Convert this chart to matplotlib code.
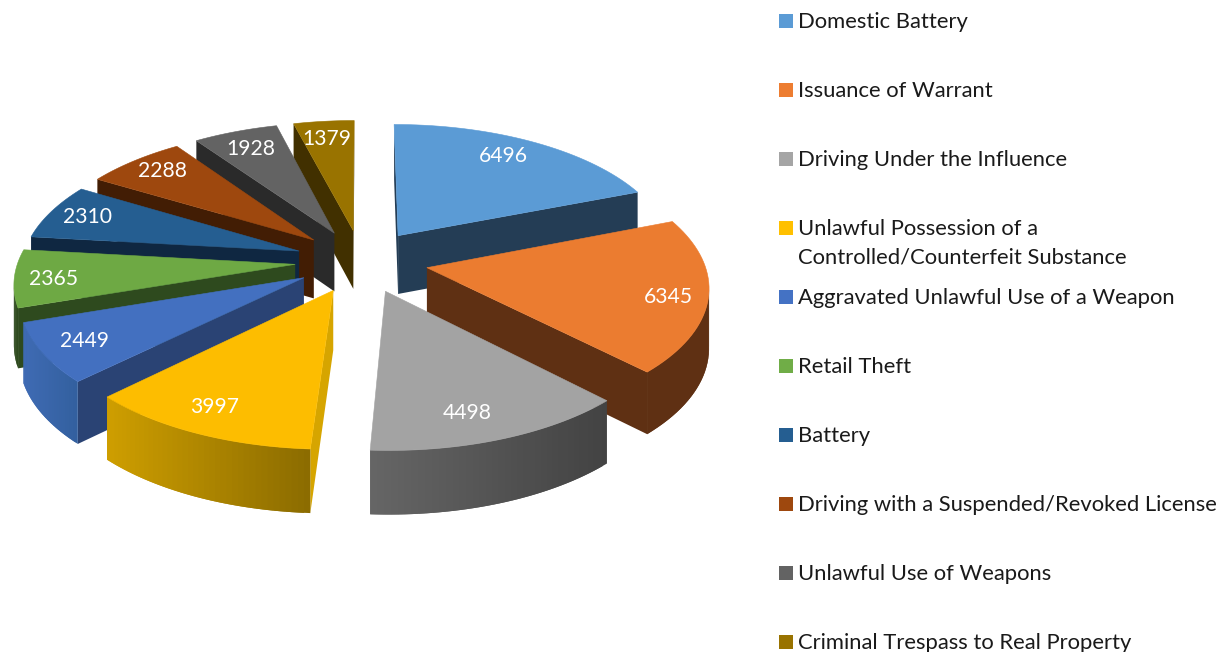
import numpy as np
import matplotlib
matplotlib.use("Agg")
import matplotlib.pyplot as plt
from matplotlib.colors import to_rgb
from matplotlib.patches import Rectangle

categories = [
    "Domestic Battery",
    "Issuance of Warrant",
    "Driving Under the Influence",
    "Unlawful Possession of a\nControlled/Counterfeit Substance",
    "Aggravated Unlawful Use of a Weapon",
    "Retail Theft",
    "Battery",
    "Driving with a Suspended/Revoked License",
    "Unlawful Use of Weapons",
    "Criminal Trespass to Real Property",
]
values = [6496, 6345, 4498, 3997, 2449, 2365, 2310, 2288, 1928, 1379]

top_colors = ["#5b9bd5", "#eb7c30", "#a3a3a3", "#fdbd00", "#4370c0",
              "#6ea944", "#255e91", "#9e480e", "#636363", "#997300"]
legend_colors = ["#5b9bd5", "#ed7d31", "#a5a5a5", "#ffc000", "#4472c4",
                 "#70ad47", "#255e91", "#9e480e", "#636363", "#997300"]
radial_colors = ["#243d55", "#5f3013", "#3f3f3f", "#d6a500", "#2a4374",
                 "#2e4a1e", "#0f2741", "#421d04", "#2a2a2a", "#413000"]
# outer wall gradient, left to right on screen
wall_left = ["#243d55", "#5f3013", "#666666", "#cf9f00", "#3f6bb4",
             "#2e4a1e", "#0f2741", "#421d04", "#2a2a2a", "#413000"]
wall_right = ["#243d55", "#5f3013", "#434343", "#8c6c00", "#33609f",
              "#2e4a1e", "#0f2741", "#421d04", "#2a2a2a", "#413000"]
# where the value sits inside its slice: radius, and degrees off the middle
label_r = [0.84, 0.86, 0.81, 0.83, 0.84, 0.86, 0.86, 0.87, 0.84, 0.85]
label_da = [-3.0, 0.8, 2.6, 1.8, 1.6, 0, 1.6, 2.4, 0.2, -0.3]

# projection settings in pixels
cx, cy = 361.5, 261
rx, ry = 277, 131
persp = 0.125
explode = 0.24
depth = 59


def project(u, v, z=0.0):
    s = 1 / (1 + persp * np.asarray(v))
    return cx + rx * np.asarray(u) * s, cy + (-ry * np.asarray(v)) * s + z * depth * np.sqrt(s)


def area(xs, ys):
    return np.sum(xs * np.roll(ys, -1) - np.roll(xs, -1) * ys)


def face(ax, us, vs, color, sign):
    # us, vs: edge on top of the slice, closed through the bottom copy
    xt, yt = project(us, vs)
    xb, yb = project(us, vs, 1.0)
    xs = np.concatenate([xt, xb[::-1]])
    ys = np.concatenate([yt, yb[::-1]])
    if area(xs, ys) * sign > 0:
        ax.fill(xs, ys, color=color, lw=0)


fig = plt.figure(figsize=(12.19, 6.52), dpi=100)
ax = fig.add_axes([0, 0, 1, 1])
ax.set_xlim(0, 1219)
ax.set_ylim(652, 0)
ax.axis("off")

edges = np.cumsum([0] + values) / sum(values) * 2 * np.pi
mids = (edges[:-1] + edges[1:]) / 2
order = np.argsort(-np.cos(mids))

for i in order:
    off_u = explode * np.sin(mids[i])
    off_v = explode * np.cos(mids[i])
    t = np.linspace(edges[i], edges[i + 1], 40)
    arc_u = off_u + np.sin(t)
    arc_v = off_v + np.cos(t)

    top_u = np.concatenate([[off_u], arc_u])
    top_v = np.concatenate([[off_v], arc_v])
    xt, yt = project(top_u, top_v)
    sign = np.sign(area(xt, yt))

    # walls, only the ones that face the viewer
    face(ax, np.array([arc_u[0], off_u]), np.array([arc_v[0], off_v]), radial_colors[i], sign)
    face(ax, np.array([off_u, arc_u[-1]]), np.array([off_v, arc_v[-1]]), radial_colors[i], sign)

    ax_x, _ = project(arc_u, arc_v)
    c0, c1 = np.array(to_rgb(wall_left[i])), np.array(to_rgb(wall_right[i]))
    for j in range(len(t) - 1):
        f = (ax_x[j] - ax_x.min()) / (ax_x.max() - ax_x.min())
        # strips overlap the next one so no seams show
        k = min(j + 2, len(t) - 1)
        face(ax, arc_u[[k, j]], arc_v[[k, j]], tuple(c0 + (c1 - c0) * f), sign)

    ax.fill(xt, yt, color=top_colors[i], lw=0.4)

# value labels go on top of everything
for i in range(len(values)):
    a = mids[i] + np.radians(label_da[i])
    u = explode * np.sin(mids[i]) + label_r[i] * np.sin(a)
    v = explode * np.cos(mids[i]) + label_r[i] * np.cos(a)
    lx, ly = project(u, v)
    ax.text(lx, ly + 3, str(values[i]), color="white", fontsize=15.2, family="Lato",
            ha="center", va="center")

# legend
for i, name in enumerate(categories):
    row = 22 + i * 69
    ax.add_patch(Rectangle((779, row - 8), 14, 14, color=legend_colors[i], lw=0))
    for k, line in enumerate(name.split("\n")):
        ax.text(798, row + k * 29, line, color="#1a1a1a", fontsize=15.8, family="Lato",
                ha="left", va="center")

fig.savefig("out.png", dpi=100)
